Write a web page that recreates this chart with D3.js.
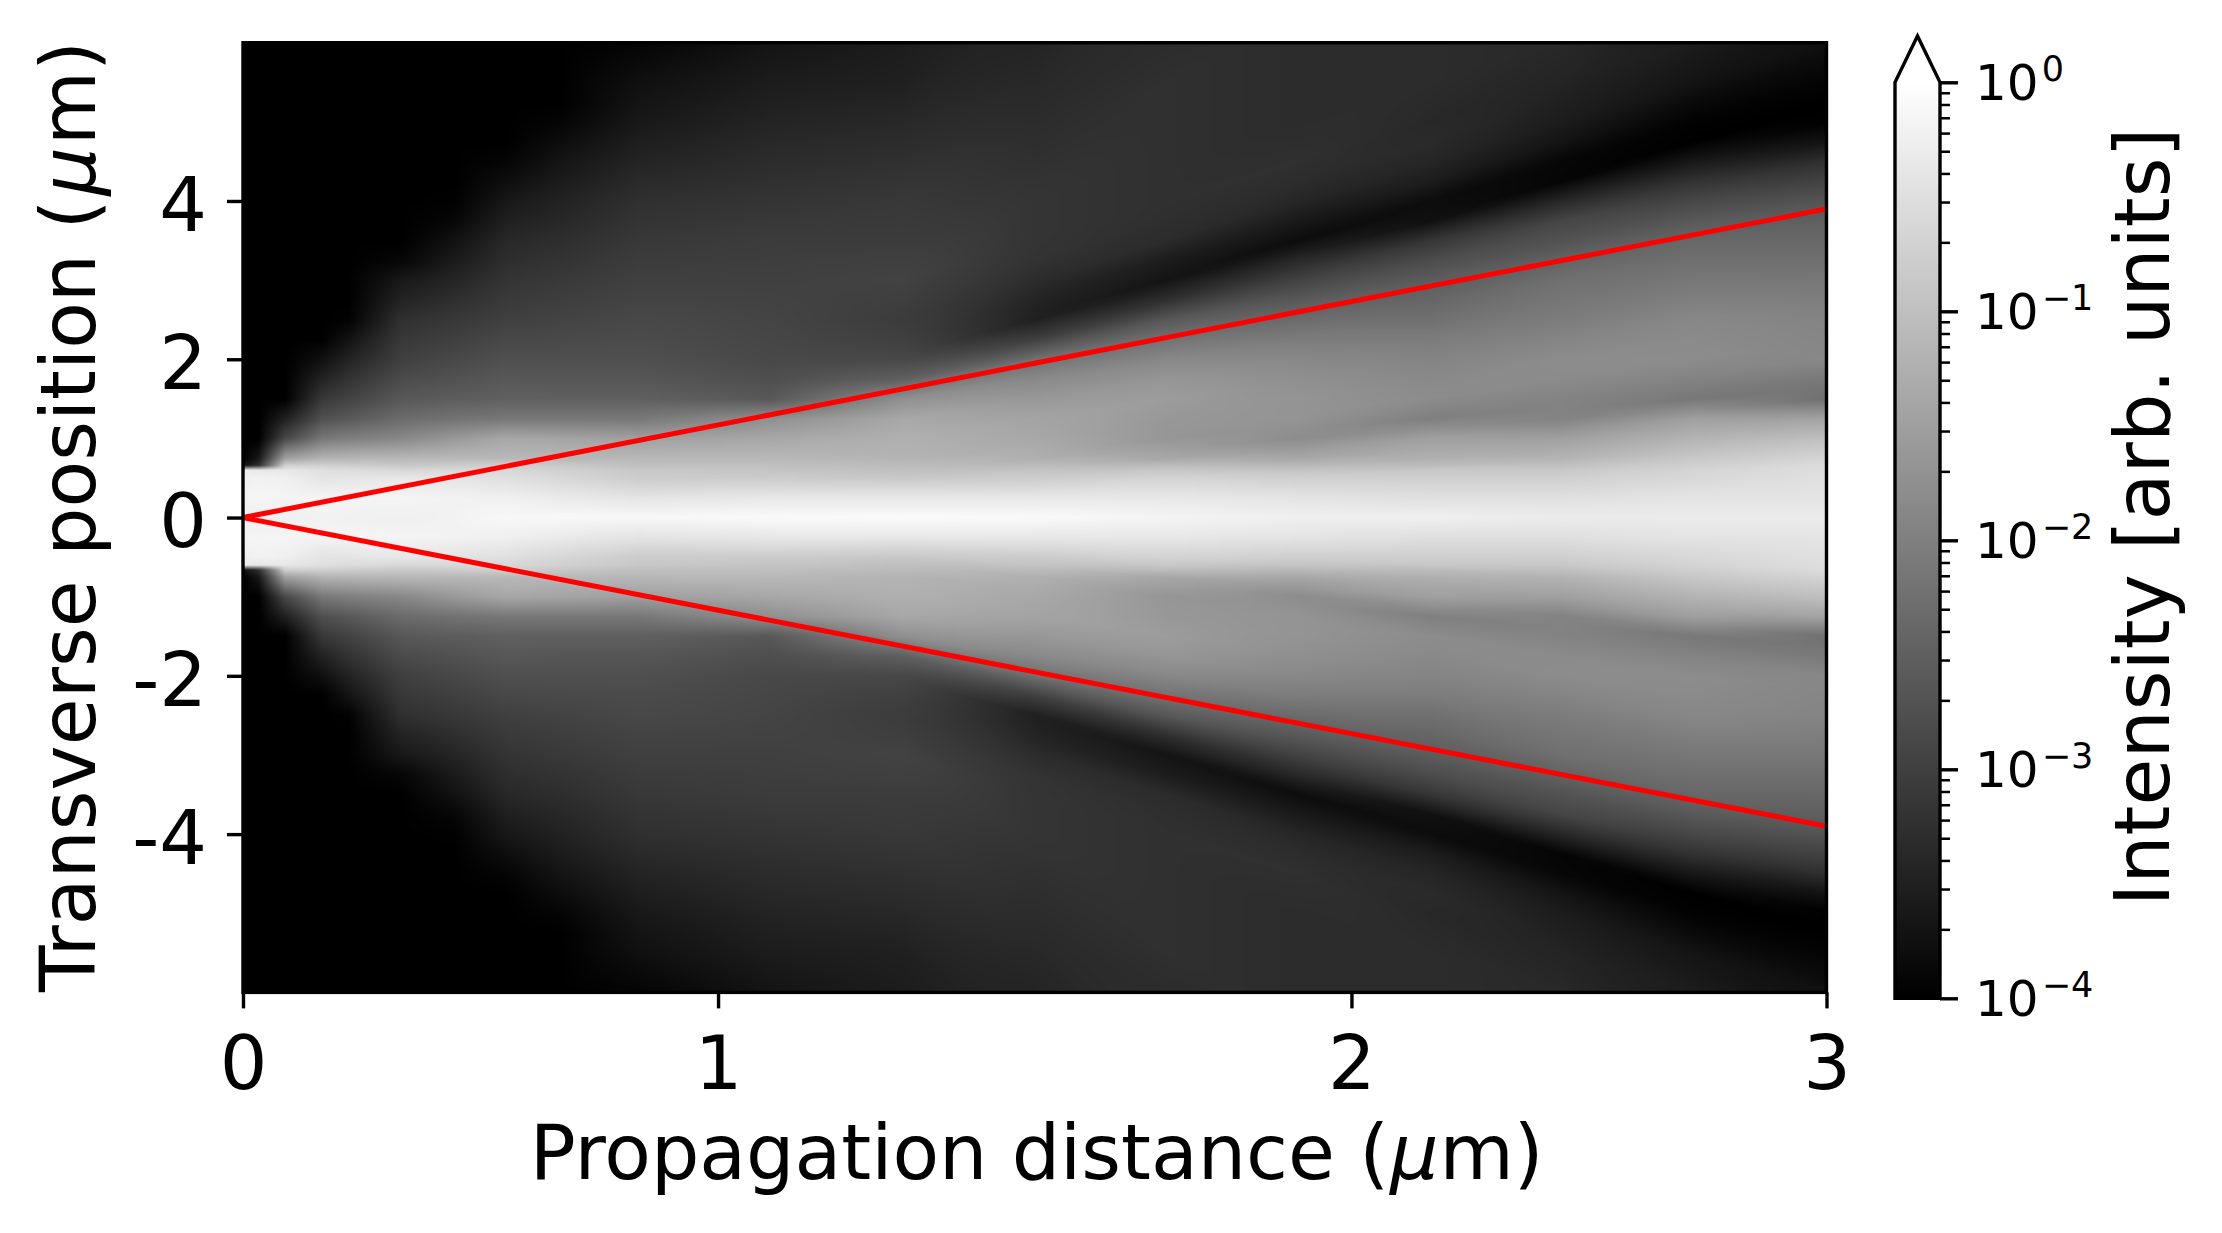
<!DOCTYPE html>
<html lang="en">
<head>
    <meta charset="UTF-8">
    <title>Beam intensity vs propagation distance</title>
    <style>
        html,body{
            margin: 0;
            background: #fff;
        }
        svg{
            display: block;
        }
        text{
            font-family: "DejaVu Sans";
            fill: #000;
        }
        .axis path{
            display: none;
        }
        .axis line{
            stroke: #000;
        }
        .axis text{
            font-size: 75px;
        }
        .label{
            font-size: 76.3px;
        }
        .cbLabel{
            font-size: 50px;
        }
    </style>
    <script src="https://cdn.jsdelivr.net/npm/d3@7"></script>
</head>
<body>
    <script>
        //propagation distance (um), one entry per column of logIntensity
        const distance=[0,0.03,0.08,0.15,0.2,0.3,0.4,0.5,0.6,0.75,1,1.25,1.5,1.75,2,2.25,2.5,2.75,3];
        //absolute transverse position (um), the picture is mirrored around 0
        const transverse=[0,0.25,0.5,0.6,0.66,0.75,1,1.25,1.5,1.75,2,2.25,2.5,2.75,3,3.25,3.5,3.75,4,4.25,4.5,4.75,5,5.25,5.5,6];
        //log10 of the intensity read from the grey levels
        const logIntensity=[
            [-.24,-.17,-.24,-.30,-3.75,-4,-4,-4,-4,-4,-4,-4,-4,-4,-4,-4,-4,-4,-4,-4,-4,-4,-4,-4,-4,-4],
            [-.24,-.17,-.20,-.36,-3.25,-3.62,-4,-4,-4,-4,-4,-4,-4,-4,-4,-4,-4,-4,-4,-4,-4,-4,-4,-4,-4,-4],
            [-.24,-.17,-.24,-.36,-.74,-1.49,-2.87,-3.50,-4,-4,-4,-4,-4,-4,-4,-4,-4,-4,-4,-4,-4,-4,-4,-4,-4,-4],
            [-.20,-.17,-.42,-.49,-.74,-1.18,-2.12,-2.75,-3.12,-3.45,-3.75,-4,-4,-4,-4,-4,-4,-4,-4,-4,-4,-4,-4,-4,-4,-4],
            [-.22,-.17,-.40,-.53,-.78,-1.15,-2.0,-2.6,-2.95,-3.2,-3.45,-3.7,-3.97,-4,-4,-4,-4,-4,-4,-4,-4,-4,-4,-4,-4,-4],
            [-.24,-.17,-.36,-.61,-.86,-1.11,-1.87,-2.31,-2.62,-2.82,-3,-3.12,-3.25,-3.45,-3.62,-3.9,-4,-4,-4,-4,-4,-4,-4,-4,-4,-4],
            [-.2,-.2,-.42,-.6,-.8,-1.11,-1.6,-2.2,-2.55,-2.72,-2.87,-3.0,-3.12,-3.27,-3.42,-3.58,-3.72,-3.9,-3.98,-4,-4,-4,-4,-4,-4,-4],
            [-.11,-.24,-.49,-.61,-.74,-1.11,-1.37,-2.12,-2.49,-2.62,-2.75,-2.87,-3,-3.09,-3.18,-3.28,-3.37,-3.5,-3.62,-3.78,-3.92,-4,-4,-4,-4,-4],
            [-.11,-.32,-.62,-.72,-.85,-1.11,-1.42,-2.12,-2.49,-2.65,-2.75,-2.85,-2.95,-3.03,-3.1,-3.2,-3.28,-3.38,-3.47,-3.57,-3.68,-3.8,-3.93,-4,-4,-4],
            [-.11,-.42,-.80,-.86,-.99,-1.11,-1.49,-2.12,-2.49,-2.65,-2.75,-2.82,-2.87,-2.94,-3,-3.06,-3.12,-3.19,-3.25,-3.34,-3.44,-3.53,-3.62,-3.69,-3.75,-3.94],
            [-.08,-.36,-.80,-.92,-.99,-1.11,-1.37,-1.74,-2.62,-2.77,-2.87,-2.9,-2.93,-2.96,-3,-3.03,-3.06,-3.12,-3.18,-3.25,-3.31,-3.37,-3.44,-3.5,-3.56,-3.69],
            [-.06,-.36,-.86,-.99,-1.05,-1.18,-1.24,-1.37,-1.74,-2.5,-2.87,-3.0,-3.06,-3.02,-2.96,-3.0,-3.06,-3.09,-3.12,-3.18,-3.25,-3.31,-3.37,-3.44,-3.50,-3.56],
            [-.08,-.36,-.80,-.92,-1.05,-1.24,-1.37,-1.43,-1.62,-1.85,-2.24,-3.0,-3.5,-3.44,-3.3,-3.2,-3.18,-3.18,-3.18,-3.2,-3.25,-3.28,-3.31,-3.34,-3.37,-3.44],
            [-.17,-.36,-.67,-.86,-1.05,-1.37,-1.65,-1.62,-1.55,-1.65,-1.87,-2.2,-2.62,-3.25,-3.69,-3.55,-3.31,-3.27,-3.25,-3.25,-3.25,-3.25,-3.25,-3.25,-3.25,-3.31],
            [-.24,-.42,-.74,-.92,-1.11,-1.37,-1.80,-1.68,-1.68,-1.75,-1.87,-2.05,-2.31,-2.6,-2.95,-3.35,-3.8,-3.6,-3.4,-3.3,-3.25,-3.28,-3.31,-3.31,-3.31,-3.31],
            [-.24,-.49,-.74,-.86,-1.05,-1.24,-1.49,-2,-1.80,-1.85,-1.93,-2.05,-2.24,-2.4,-2.56,-2.8,-3.15,-3.75,-3.8,-3.55,-3.4,-3.34,-3.37,-3.34,-3.31,-3.31],
            [-.30,-.49,-.74,-.86,-.99,-1.18,-1.49,-1.95,-1.95,-1.82,-1.80,-1.92,-2.05,-2.15,-2.24,-2.45,-2.7,-2.9,-3.37,-3.92,-3.9,-3.69,-3.56,-3.5,-3.44,-3.37],
            [-.30,-.42,-.61,-.67,-.74,-.86,-1.18,-1.49,-2.12,-1.95,-1.80,-1.83,-1.87,-2.0,-2.12,-2.25,-2.37,-2.6,-2.87,-3.2,-3.62,-4,-3.97,-3.85,-3.69,-3.56],
            [-.30,-.42,-.49,-.52,-.55,-.67,-.99,-1.43,-2.24,-2.1,-1.87,-1.9,-1.93,-2.02,-2.12,-2.25,-2.37,-2.5,-2.68,-2.95,-3.25,-3.7,-4,-4,-3.94,-3.75]
        ];
        //red divergence lines
        const edgeDistance=[0,3];
        const edgeUpper=[0,3.9];
        const edgeLower=[0,-3.9];
        //ticks, the x labels are rounded on purpose like in the picture
        const xTicks=[0,0.9,2.1,3];
        const xTickLabels=["0","1","2","3"];
        const yTicks=[-4,-2,0,2,4];
        const yTickLabels=["-4","-2","0","2","4"];
        const cbDecades=[1e-4,1e-3,1e-2,1e-1,1];
        const cbExponents=["\u22124","\u22123","\u22122","\u22121","0"];

        const width=2222;
        const height=1233;
        const plot={left:243,right:1826.5,top:42.7,bottom:992.4};
        const bar={left:1895,right:1940,top:82.3,bottom:998.3,apex:36};
        //from here on the bands of the beam run straight out of the origin
        const rayStart=1.25;

        const svg=d3.select("body").append("svg")
            .attr("width",width)
            .attr("height",height)
            .attr("viewBox",`0 0 ${width} ${height}`);

        const xScale=d3.scaleLinear().domain([0,3]).range([plot.left,plot.right]);
        const yScale=d3.scaleLinear().domain([-6,6]).range([plot.bottom,plot.top]);
        const cbScale=d3.scaleLog().domain([1e-4,1]).range([bar.bottom,bar.top]);
        const grey=d3.scaleLinear().domain([-4,0]).range([0,255]).clamp(true);

        //index scales to look up the grid, grid is not uniform
        const colIndex=d3.scaleLinear().domain(distance).range(d3.range(distance.length)).clamp(true);
        const rowIndex=d3.scaleLinear().domain(transverse).range(d3.range(transverse.length)).clamp(true);

        const sampleColumn=(c,y)=>{
            const r=rowIndex(y);
            const r0=Math.min(Math.floor(r),transverse.length-2);
            const f=r-r0;
            return logIntensity[c][r0]*(1-f)+logIntensity[c][r0+1]*f;
        };

        //heatmap goes to a canvas, shaded between the grid columns
        const imgW=Math.round(plot.right-plot.left);
        const imgH=Math.round(plot.bottom-plot.top);
        const canvas=document.createElement("canvas");
        canvas.width=imgW;
        canvas.height=imgH;
        const ctx=canvas.getContext("2d");
        const pixels=ctx.createImageData(imgW,imgH);
        for(let j=0;j<imgH;j++){
            const y=Math.abs(yScale.invert(plot.top+j+0.5));
            for(let i=0;i<imgW;i++){
                const x=xScale.invert(plot.left+i+0.5);
                const col=colIndex(x);
                const c0=Math.min(Math.floor(col),distance.length-2);
                const f=col-c0;
                const ray=distance[c0]>=rayStart;
                const a=sampleColumn(c0,ray?y*distance[c0]/x:y);
                const b=sampleColumn(c0+1,ray?y*distance[c0+1]/x:y);
                const g=grey(a*(1-f)+b*f);
                const k=(j*imgW+i)*4;
                pixels.data[k]=g;
                pixels.data[k+1]=g;
                pixels.data[k+2]=g;
                pixels.data[k+3]=255;
            }
        }
        ctx.putImageData(pixels,0,0);
        svg.append("image")
            .attr("x",xScale(0))
            .attr("y",yScale(6))
            .attr("width",imgW)
            .attr("height",imgH)
            .attr("preserveAspectRatio","none")
            .attr("href",canvas.toDataURL());

        //red lines
        const lineGen=d3.line()
            .x(d=>xScale(d[0]))
            .y(d=>yScale(d[1]));
        svg.selectAll(".edge")
            .data([edgeUpper,edgeLower])
            .enter()
            .append("path")
            .attr("class","edge")
            .attr("d",d=>lineGen(edgeDistance.map((x,i)=>[x,d[i]])))
            .attr("fill","none")
            .attr("stroke","#ff0000")
            .attr("stroke-width",5);

        //frame
        svg.append("rect")
            .attr("x",plot.left)
            .attr("y",plot.top)
            .attr("width",plot.right-plot.left)
            .attr("height",plot.bottom-plot.top)
            .attr("fill","none")
            .attr("stroke","#000")
            .attr("stroke-width",3.4);

        //axes
        const xAxis=d3.axisBottom(xScale)
            .tickValues(xTicks)
            .tickFormat((d,i)=>xTickLabels[i])
            .tickSize(16)
            .tickPadding(27);
        const yAxis=d3.axisLeft(yScale)
            .tickValues(yTicks)
            .tickFormat((d,i)=>yTickLabels[i])
            .tickSize(16)
            .tickPadding(20);
        svg.append("g").attr("class","axis")
            .attr("transform",`translate(0,${plot.bottom})`)
            .call(xAxis)
            .call(g=>g.selectAll("line").attr("stroke-width",3.4));
        svg.append("g").attr("class","axis")
            .attr("transform",`translate(${plot.left},0)`)
            .call(yAxis)
            .call(g=>g.selectAll("line").attr("stroke-width",3.4))
            .call(g=>g.selectAll("text").attr("dy","0.39em"));

        //axis titles
        const xTitle=svg.append("text")
            .attr("class","label")
            .attr("x",(plot.left+plot.right)/2+2)
            .attr("y",1179)
            .style("text-anchor","middle");
        const yTitle=svg.append("text")
            .attr("class","label")
            .attr("transform",`translate(95,${(plot.top+plot.bottom)/2-1}) rotate(-90)`)
            .style("text-anchor","middle");
        [[xTitle,"Propagation distance ("],[yTitle,"Transverse position ("]].forEach(([t,name],i)=>{
            t.append("tspan").text(name);
            t.append("tspan").attr("dx",i?4:1).style("font-style","italic").text("\u03bc");
            t.append("tspan").attr("dx",i?2:1).text("m)");
        });

        //colorbar
        const defs=svg.append("defs");
        const grad=defs.append("linearGradient")
            .attr("id","cbGrad")
            .attr("x1",0).attr("x2",0)
            .attr("y1",1).attr("y2",0);
        grad.append("stop").attr("offset","0%").attr("stop-color",d3.rgb(grey(-4),grey(-4),grey(-4)));
        grad.append("stop").attr("offset","100%").attr("stop-color",d3.rgb(grey(0),grey(0),grey(0)));
        svg.append("rect")
            .attr("x",bar.left)
            .attr("y",bar.top)
            .attr("width",bar.right-bar.left)
            .attr("height",bar.bottom-bar.top)
            .attr("fill","url(#cbGrad)");
        const outline=d3.line()([
            [bar.left,bar.bottom],
            [bar.left,bar.top],
            [(bar.left+bar.right)/2,bar.apex],
            [bar.right,bar.top],
            [bar.right,bar.bottom]
        ])+"Z";
        svg.append("path")
            .attr("d",outline)
            .attr("fill","none")
            .attr("stroke","#000")
            .attr("stroke-width",3.4);

        const cbMinor=cbScale.ticks().filter(d=>!cbDecades.some(m=>Math.abs(m-d)<d*1e-6));
        svg.append("g").attr("class","axis")
            .attr("transform",`translate(${bar.right},0)`)
            .call(d3.axisRight(cbScale).tickValues(cbMinor).tickFormat("").tickSize(10))
            .call(g=>g.selectAll("line").attr("stroke-width",2.5));
        svg.append("g").attr("class","axis")
            .attr("transform",`translate(${bar.right},0)`)
            .call(d3.axisRight(cbScale).tickValues(cbDecades).tickFormat("").tickSize(18))
            .call(g=>g.selectAll("line").attr("stroke-width",3.4));

        const cbText=svg.selectAll(".cbLabel")
            .data(cbDecades)
            .enter()
            .append("text")
            .attr("class","cbLabel")
            .attr("x",1975)
            .attr("y",d=>cbScale(d)+18);
        cbText.append("tspan").text("10");
        cbText.append("tspan")
            .attr("dy",-19)
            .attr("dx",3)
            .style("font-size","35px")
            .text((d,i)=>cbExponents[i]);

        svg.append("text")
            .attr("class","label")
            .attr("transform","translate(2169,517) rotate(-90)")
            .style("text-anchor","middle")
            .text("Intensity [arb. units]");
    </script>
</body>
</html>
